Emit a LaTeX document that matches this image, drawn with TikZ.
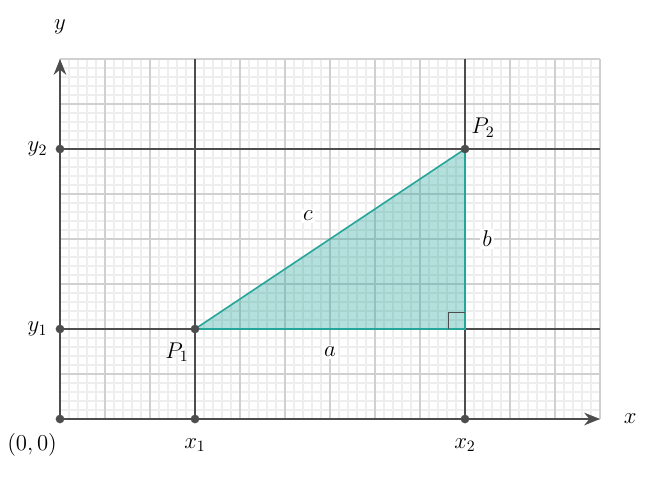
\documentclass[tikz,border=0pt]{standalone}
\usepackage{amsmath}
\usepackage{tikz}
\usepackage{xcolor}
\usetikzlibrary{arrows.meta}

\definecolor{axisgray}{HTML}{4D4D4D}
\definecolor{majorgray}{HTML}{D0D0D0}
\definecolor{minorgray}{HTML}{EEEEEE}
\definecolor{tealline}{HTML}{26A69A}

\begin{document}
\begin{tikzpicture}[every node/.style={font=\Large},
    dot/.style={circle, fill=axisgray, inner sep=0pt, minimum size=5.5pt},
    tag/.style={fill=white, inner sep=1.5pt},
    axis/.style={draw=axisgray, line width=1.3pt}]
                \useasboundingbox (-1.333,-1.356) rectangle (13.333,9.311);

                % grid
                \draw[minorgray, line width=0.7pt] (0,0) grid[step=0.2] (12,8);
                \draw[majorgray, line width=0.9pt] (0,0) grid[step=1] (12,8);

                \coordinate (O) at (0,0);
                \coordinate (X1) at (3,0);
                \coordinate (X2) at (9,0);
                \coordinate (Y1) at (0,2);
                \coordinate (Y2) at (0,6);
                \coordinate (P1) at (3,2);
                \coordinate (P2) at (9,6);
                \coordinate (XE) at (12,0);
                \coordinate (YE) at (0,8);
                \coordinate (X1T) at (3,8);
                \coordinate (X2T) at (9,8);
                \coordinate (Y1R) at (12,2);
                \coordinate (Y2R) at (12,6);

                \draw[axis] (X1) -- (X1T);
                \draw[axis] (X2) -- (X2T);
                \draw[axis] (Y1) -- (Y1R);
                \draw[axis] (Y2) -- (Y2R);
                \draw[axis, -{Stealth[length=10pt, width=8pt]}] (O) -- (XE);
                \draw[axis, -{Stealth[length=10pt, width=8pt]}] (O) -- (YE);

                % triangle
                \draw[tealline, line width=1pt, fill=tealline, fill opacity=0.35]
                    (P1) -- (X2 |- P1) -- (P2) -- cycle;
                \draw[axisgray, line width=0.8pt] (8.64,2) -- (8.64,2.36) -- (9,2.36);

                \foreach \p in {O, X1, X2, Y1, Y2, P1, P2}
                    \node[dot] at (\p) {};

                \node (ylab) at (0,8.71) {$y$};
                \node (xlab) at (12.67,0) {$x$};
                \node (y2lab) at (-0.5,6) {$y_2$};
                \node (y1lab) at (-0.5,2) {$y_1$};
                \node (olab) at (-0.62,-0.58) {$(0,0)$};
                \node (x1lab) at (3,-0.58) {$x_1$};
                \node (x2lab) at (9,-0.58) {$x_2$};
                \node (p1lab) at (2.6,1.49) {$P_1$};
                \node (p2lab) at (9.4,6.47) {$P_2$};
                \node[tag] (clab) at (5.51,4.51) {$c$};
                \node[tag] (blab) at (9.49,4) {$b$};
                \node[tag] (alab) at (6,1.49) {$a$};
            \end{tikzpicture}
\end{document}
